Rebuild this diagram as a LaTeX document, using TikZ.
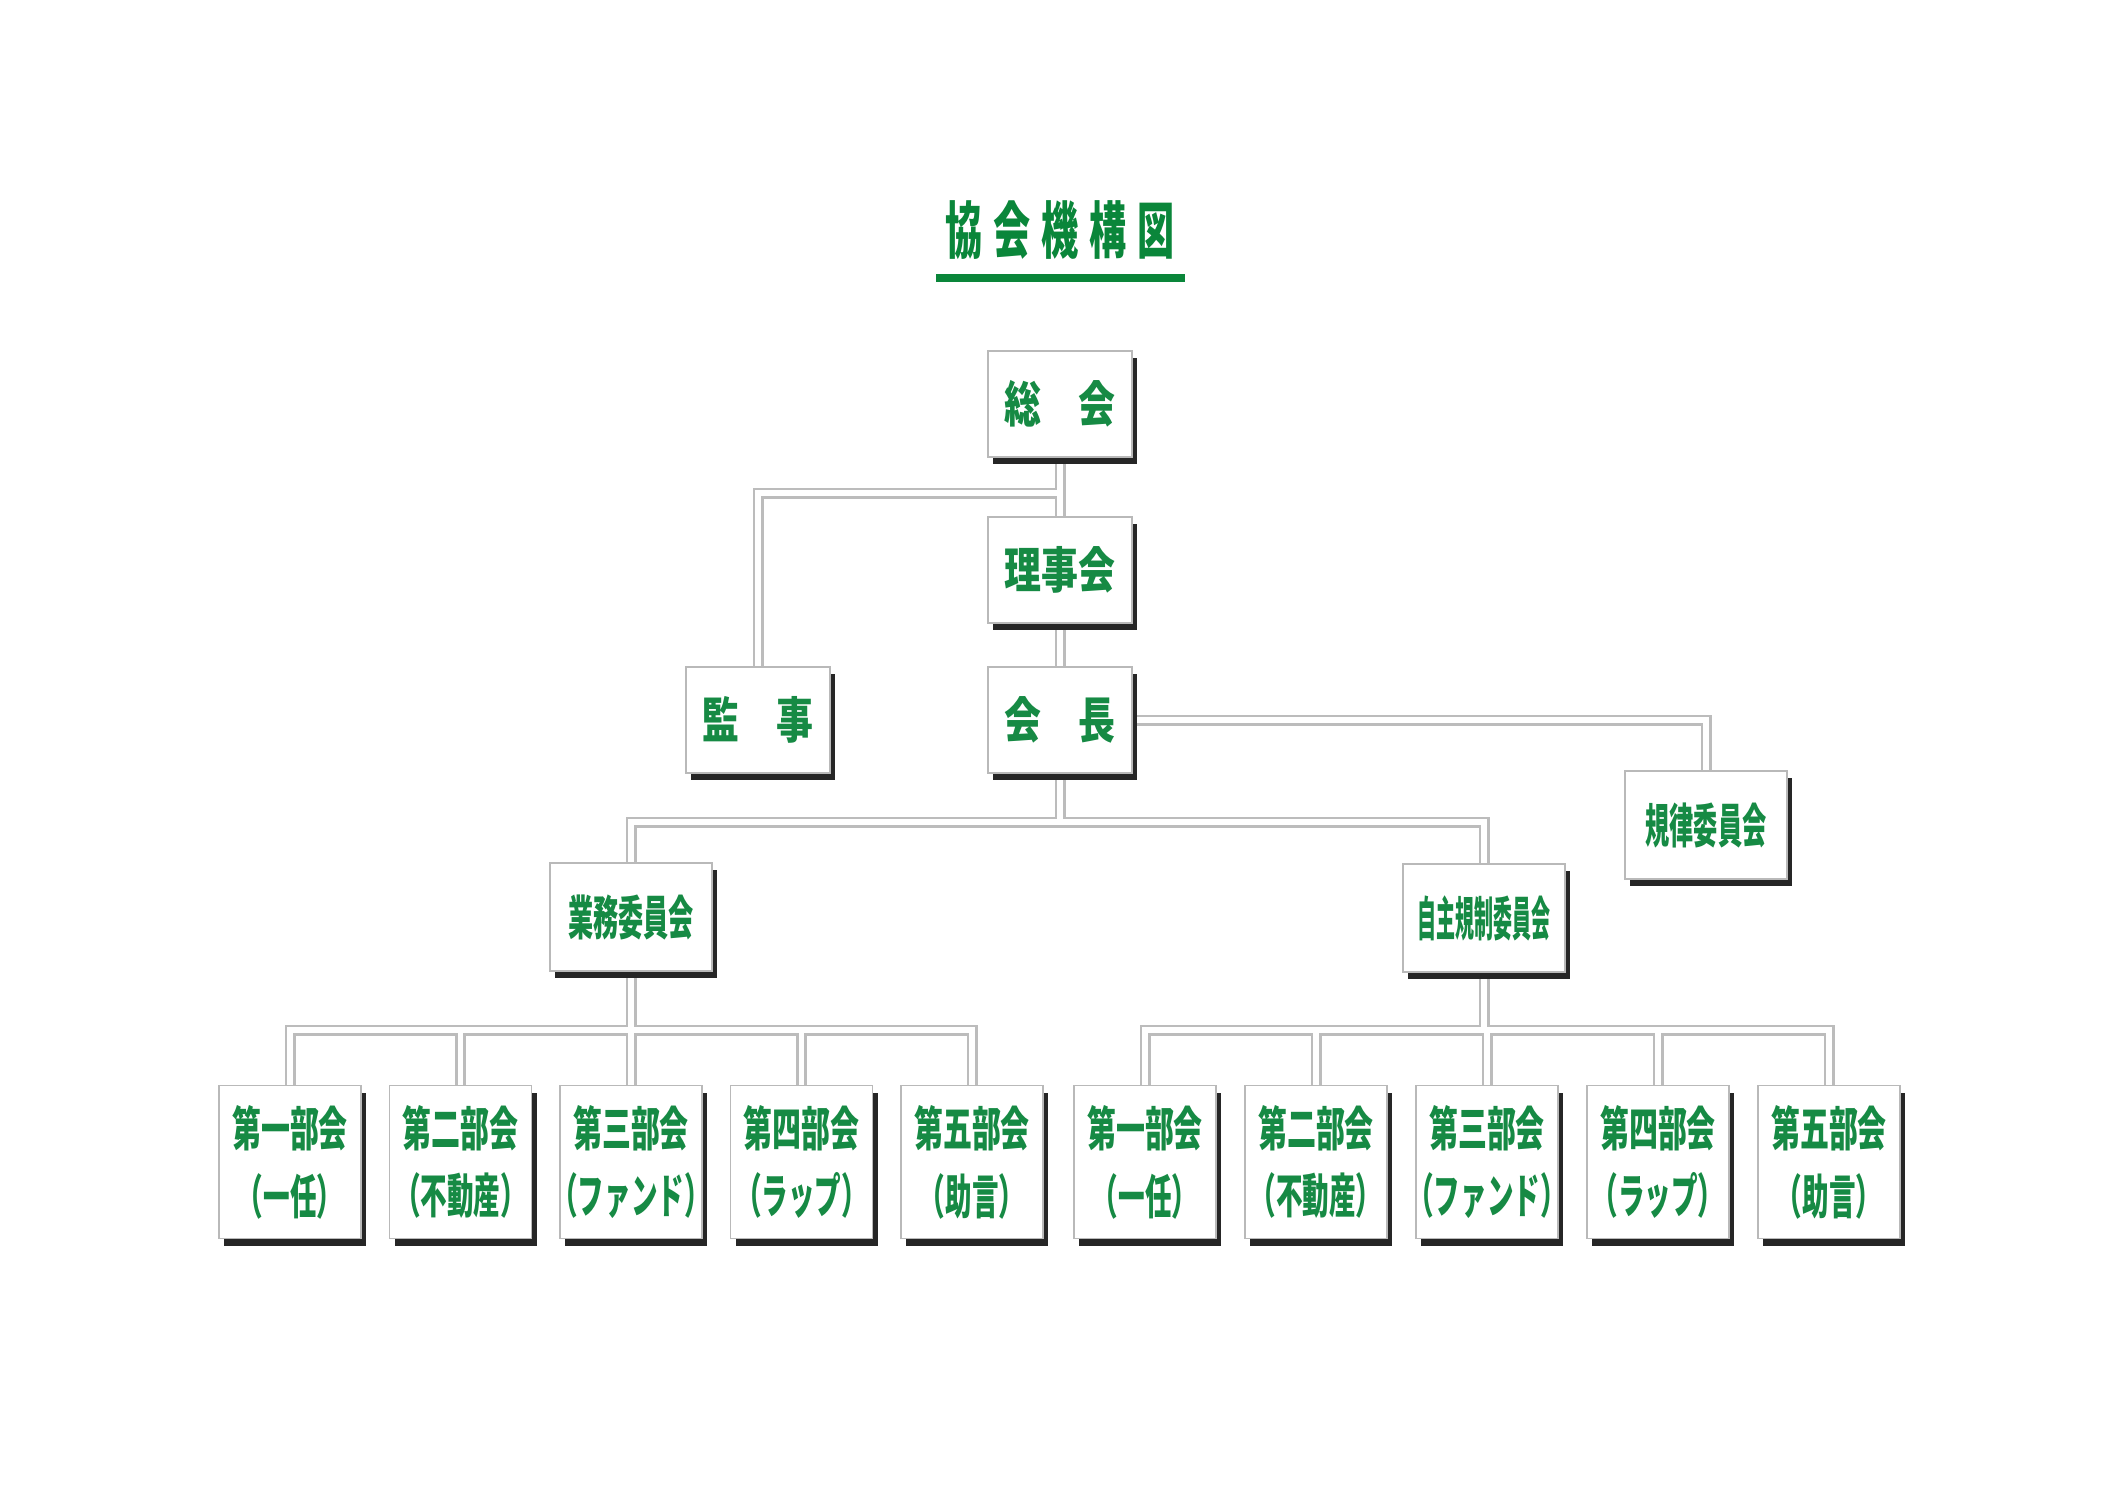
\documentclass[tikz,border=0pt]{standalone}
\usepackage{fontspec}
\usepackage{graphicx}
\usetikzlibrary{shadows,backgrounds}
\newfontfamily\cjk{Noto Sans CJK JP}
\definecolor{orggreen}{RGB}{22,138,68}
\definecolor{linegreen}{RGB}{10,134,58}
\definecolor{conngray}{RGB}{188,188,188}
\newcommand{\squeeze}[2]{\scalebox{#1}[1]{#2}}
\newcommand{\subline}[1]{\makebox[1.2cm]{\squeeze{0.56}{#1}}}

\begin{document}
\begin{tikzpicture}[
    orgbox/.style={draw=gray!55, line width=0.5pt, fill=white, text=orggreen, inner sep=0pt,
      drop shadow={shadow xshift=0.05cm, shadow yshift=-0.07cm, fill=black!85, opacity=1}},
    topbox/.style={orgbox, minimum width=1.44cm, minimum height=1.06cm,
      font=\cjk\bfseries\fontsize{14pt}{16pt}\selectfont},
    iinbox/.style={orgbox, minimum width=1.62cm, minimum height=1.08cm,
      font=\cjk\bfseries\fontsize{13.5pt}{16pt}\selectfont},
    bukaibox/.style={orgbox, minimum width=1.42cm, minimum height=1.53cm, align=center,
      font=\cjk\bfseries\fontsize{13.5pt}{19.3pt}\selectfont}
]
    \useasboundingbox (0,0) rectangle (21.05,-14.89);

    % Titel
    \node[text=linegreen, font=\cjk\bfseries\fontsize{17.6pt}{20pt}\selectfont] (title) at (10.60,-2.30)
        {\squeeze{0.6}{協\hspace{0.18cm}会\hspace{0.18cm}機\hspace{0.18cm}構\hspace{0.18cm}図}};
    \fill[linegreen] (9.36,-2.74) rectangle (11.85,-2.82);

    % Vedeni
    \node[topbox] (sokai)   at (10.60,-4.04) {\squeeze{0.75}{総　会}};
    \node[topbox] (rijikai) at (10.60,-5.70) {\squeeze{0.75}{理事会}};
    \node[topbox] (kanji)   at (7.58,-7.20)  {\squeeze{0.75}{監　事}};
    \node[topbox] (kaicho)  at (10.60,-7.20) {\squeeze{0.75}{会　長}};

    % Vybory
    \node[iinbox] (kiritsu) at (17.06,-8.25) {\squeeze{0.51}{規律委員会}};
    \node[iinbox] (gyomu)   at (6.31,-9.17)  {\squeeze{0.53}{業務委員会}};
    \node[iinbox] (jishu)   at (14.84,-9.18) {\squeeze{0.40}{自主規制委員会}};

    % Sekce
    \foreach \i/\name/\sub in {1/第一部会/（一任）, 2/第二部会/（不動産）, 3/第三部会/（ファンド）,
                               4/第四部会/（ラップ）, 5/第五部会/（助言）} {
        \node[bukaibox] (bl-\i) at ({2.90+1.705*(\i-1)},-11.62) {\squeeze{0.61}{\name}\\\subline{\sub}};
        \node[bukaibox] (br-\i) at ({11.45+1.71*(\i-1)},-11.62) {\squeeze{0.61}{\name}\\\subline{\sub}};
    }

    % Spojnice
    \coordinate (kanjiJoin) at (10.60,-4.93);
    \coordinate (kaichoBus) at (10.60,-8.22);
    \coordinate (gyomuBus)  at (6.31,-10.30);
    \coordinate (jishuBus)  at (14.84,-10.30);

    \begin{scope}[on background layer]
        \fill[white] (0,0) rectangle (21.05,-14.89);
        % dvojita cara: sedy obrys, pak bila vypln
        \foreach \lw/\col in {0.11/conngray, 0.055/white} {
            \draw[line width=\lw cm, draw=\col] (sokai.south) -- (rijikai.north);
            \draw[line width=\lw cm, draw=\col] (kanjiJoin) -| (kanji.north);
            \draw[line width=\lw cm, draw=\col] (rijikai.south) -- (kaicho.north);
            \draw[line width=\lw cm, draw=\col] (kaicho.east) -| (kiritsu.north);
            \draw[line width=\lw cm, draw=\col] (kaicho.south) -- (kaichoBus);
            \draw[line width=\lw cm, draw=\col] (kaichoBus) -| (gyomu.north);
            \draw[line width=\lw cm, draw=\col] (kaichoBus) -| (jishu.north);
            \draw[line width=\lw cm, draw=\col] (gyomu.south) -- (gyomuBus);
            \draw[line width=\lw cm, draw=\col] (jishu.south) -- (jishuBus);
            \foreach \i in {1,...,5} {
                \draw[line width=\lw cm, draw=\col] (gyomuBus) -| (bl-\i.north);
                \draw[line width=\lw cm, draw=\col] (jishuBus) -| (br-\i.north);
            }
        }
    \end{scope}
\end{tikzpicture}
\end{document}
